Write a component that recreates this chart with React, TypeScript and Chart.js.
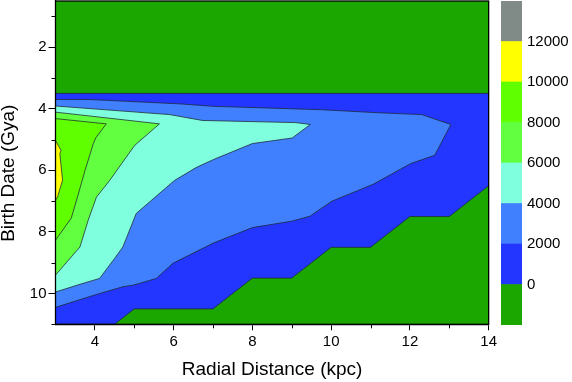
import React, { useEffect, useRef } from 'react';
import { Chart, registerables } from 'chart.js';

Chart.register(...registerables);

const FONT = 'Liberation Sans, Arial, Helvetica, sans-serif';

// Axes
const X_MAJOR = [4, 6, 8, 10, 12, 14];
const X_MINOR = [5, 7, 9, 11, 13];
const Y_MAJOR = [2, 4, 6, 8, 10];
const Y_MINOR = [1, 3, 5, 7, 9, 11];

// Colour scale
const CB_TICKS = [0, 2000, 4000, 6000, 8000, 10000, 12000];
const LEVELS = [-2000, 0, 2000, 4000, 6000, 8000, 10000, 12000, 14000];
const LEVEL_COLORS = ['#1ca600', '#2236ff', '#4080ff', '#80ffdf', '#62ff40', '#60ff00', '#ffff00', '#808a86'];

// Contour regions (x: kpc, y: Gya), each region = value >= level
const REGION_BELOW0: [number, number][] = [[3, 0.5], [14, 0.5], [14, 11], [3, 11]];
const REGION_0: [number, number][] = [
  [3, 3.5], [14, 3.5], [14, 6.5], [13, 7.5], [12, 7.5], [11, 8.5], [10, 8.5], [9, 9.5],
  [8, 9.5], [7, 10.5], [5, 10.5], [4.5, 11], [3, 11],
];
const REGION_2000: [number, number][] = [
  [3, 3.7], [3.87, 3.7], [6.14, 3.84], [7.0, 3.92], [9.75, 4.03], [11.2, 4.13], [12.3, 4.19],
  [13.04, 4.51], [12.63, 5.51], [12.02, 5.78], [11.07, 6.45], [10.02, 7.0], [9.46, 7.49],
  [9.0, 7.65], [8.0, 7.86], [7.01, 8.36], [5.98, 9.02], [5.56, 9.51], [4.97, 9.73],
  [4.71, 9.78], [4.04, 10.03], [3, 10.45],
];
const REGION_4000: [number, number][] = [
  [3, 3.91], [5.9, 4.19], [6.73, 4.38], [9.1, 4.45], [9.47, 4.51], [9.01, 4.95], [8.0, 5.13],
  [7.01, 5.65], [6.57, 5.91], [6.02, 6.33], [5.05, 7.4], [4.71, 8.49], [4.5, 8.86],
  [4.12, 9.51], [3.7, 9.67], [3, 9.95],
];
const REGION_6000: [number, number][] = [
  [3, 4.11], [5.64, 4.49], [5.01, 5.19], [4.38, 6.32], [4.04, 6.87], [3.83, 7.62],
  [3.62, 8.49], [3, 9.4],
];
const REGION_8000: [number, number][] = [
  [3, 4.32], [4.29, 4.49], [4.02, 4.95], [3.96, 5.13], [3.75, 6.0], [3.55, 6.9],
  [3.4, 7.55], [3, 8.27],
];
const REGION_10000: [number, number][] = [
  [3, 5.03], [3.14, 5.35], [3.11, 5.46], [3.18, 6.32], [3.05, 6.87], [3, 6.97],
];

const REGIONS = [REGION_BELOW0, REGION_0, REGION_2000, REGION_4000, REGION_6000, REGION_8000, REGION_10000];

const LINE_COLOR = 'rgba(30,40,50,0.85)';

export default function App() {
  const mainRef = useRef<HTMLCanvasElement | null>(null);
  const cbRef = useRef<HTMLCanvasElement | null>(null);

  useEffect(() => {
    if (!mainRef.current || !cbRef.current) return;

    const datasets = REGIONS.map((reg, i) => ({
      data: reg.map(([x, y]) => ({ x, y })),
      backgroundColor: LEVEL_COLORS[i],
      borderColor: i === 0 ? 'rgba(0,0,0,0)' : LINE_COLOR,
      borderWidth: i === 0 ? 0 : 0.9,
      pointRadius: 0,
      tension: 0,
      fill: 'shape' as any,
      order: 20 - i,
    }));

    const decor = {
      id: 'decor',
      afterDatasetsDraw(chart: any) {
        const { ctx, chartArea: ca } = chart;
        const xs = chart.scales.x;
        const ys = chart.scales.y;
        ctx.save();
        ctx.strokeStyle = '#000';
        ctx.lineWidth = 1.3;
        ctx.strokeRect(ca.left, ca.top, ca.right - ca.left, ca.bottom - ca.top);
        ctx.lineWidth = 1;
        ctx.beginPath();
        X_MINOR.forEach((v) => {
          const px = Math.round(xs.getPixelForValue(v)) + 0.5;
          ctx.moveTo(px, ca.bottom);
          ctx.lineTo(px, ca.bottom + 4);
        });
        Y_MINOR.forEach((v) => {
          const py = Math.round(ys.getPixelForValue(v)) + 0.5;
          ctx.moveTo(ca.left, py);
          ctx.lineTo(ca.left - 4, py);
        });
        ctx.stroke();
        ctx.restore();
      },
    };

    const main = new Chart(mainRef.current, {
      type: 'line',
      data: { datasets: datasets as any },
      options: {
        responsive: false,
        animation: false,
        events: [],
        layout: { padding: { left: 0, top: 1, right: 9.3, bottom: 0 } },
        plugins: { legend: { display: false }, tooltip: { enabled: false } },
        scales: {
          x: {
            type: 'linear',
            min: 3,
            max: 14,
            afterBuildTicks: (s: any) => {
              s.ticks = X_MAJOR.map((v) => ({ value: v }));
            },
            afterFit: (s: any) => {
              s.height = 57.7;
            },
            grid: { display: true, drawOnChartArea: false, drawTicks: true, tickLength: 6, tickColor: '#000', tickWidth: 1 },
            border: { display: true, color: '#000', width: 1.3 },
            ticks: { color: '#000', font: { family: FONT, size: 15 }, padding: 3, maxRotation: 0, autoSkip: false },
            title: {
              display: true,
              text: 'Radial Distance (kpc)',
              color: '#000',
              font: { family: FONT, size: 19 },
              padding: { top: 0, bottom: 1 },
            },
          },
          y: {
            type: 'linear',
            reverse: true,
            min: 0.5,
            max: 11,
            afterBuildTicks: (s: any) => {
              s.ticks = Y_MAJOR.map((v) => ({ value: v }));
            },
            afterFit: (s: any) => {
              s.width = 55.5;
              s.paddingTop = 0;
              s.paddingBottom = 0;
            },
            grid: { display: true, drawOnChartArea: false, drawTicks: true, tickLength: 7, tickColor: '#000', tickWidth: 1 },
            border: { display: true, color: '#000', width: 1.3 },
            ticks: { color: '#000', font: { family: FONT, size: 15 }, padding: 2, autoSkip: false },
            title: {
              display: true,
              text: 'Birth Date (Gya)    ',
              color: '#000',
              font: { family: FONT, size: 19, lineHeight: 0.9 },
              padding: { top: 0, bottom: 0 },
            },
          },
        },
      },
      plugins: [decor],
    });

    const cb = new Chart(cbRef.current, {
      type: 'bar',
      data: {
        labels: [''],
        datasets: LEVEL_COLORS.map((c, i) => ({
          data: [[LEVELS[i], LEVELS[i + 1]]] as any,
          backgroundColor: c,
          borderWidth: 0,
          grouped: false,
          barPercentage: 1,
          categoryPercentage: 1,
        })),
      },
      options: {
        responsive: false,
        animation: false,
        events: [],
        layout: { padding: { left: 5, top: 1, right: 0, bottom: 57 } },
        plugins: { legend: { display: false }, tooltip: { enabled: false } },
        scales: {
          x: { display: false },
          y: {
            position: 'right',
            min: -2000,
            max: 14000,
            afterBuildTicks: (s: any) => {
              s.ticks = CB_TICKS.map((v) => ({ value: v }));
            },
            afterFit: (s: any) => {
              s.width = 50;
              s.paddingTop = 0;
              s.paddingBottom = 0;
            },
            grid: { display: false, drawTicks: false, tickLength: 0 },
            border: { display: false },
            ticks: {
              color: '#000',
              font: { family: FONT, size: 15 },
              padding: 5,
              autoSkip: false,
              callback: (v: any) => String(v),
            },
          },
        },
      },
    });

    return () => {
      main.destroy();
      cb.destroy();
    };
  }, []);

  return (
    <div style={{ position: 'fixed', left: 0, top: 0, width: 572, height: 382, background: '#fff' }}>
      <canvas ref={mainRef} width={500} height={382} style={{ position: 'absolute', left: 0, top: 0 }} />
      <canvas ref={cbRef} width={76} height={382} style={{ position: 'absolute', left: 496, top: 0 }} />
    </div>
  );
}
